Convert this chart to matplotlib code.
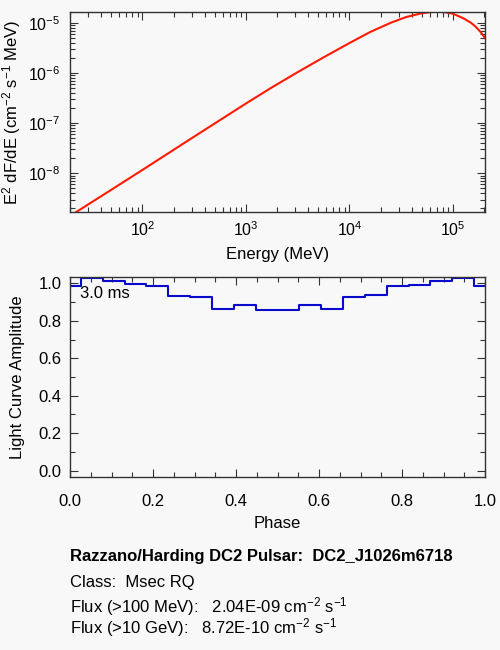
import math
import matplotlib
matplotlib.use("Agg")
import matplotlib.pyplot as plt
from matplotlib.ticker import LogLocator, MultipleLocator, NullFormatter

# spectrum (E in MeV, E^2 dF/dE)
energy = [20, 50, 100, 316, 1000, 1778, 3162, 5623, 10000, 15849, 25119,
          35481, 50119, 59566, 70795, 84140, 100000, 125893, 149279,
          165959, 186209, 206538]
e2dfde = [1.41e-9, 4.68e-9, 1.164e-8, 5.37e-8, 2.455e-7, 5.13e-7, 1.035e-6,
          2.042e-6, 3.936e-6, 6.531e-6, 1.0e-5, 1.303e-5, 1.549e-5, 1.622e-5,
          1.66e-5, 1.622e-5, 1.514e-5, 1.23e-5, 1.0e-5, 8.32e-6, 6.46e-6,
          4.79e-6]

# light curve, 20 phase bins
phase = [i / 19 for i in range(20)]
amplitude = [0.988, 1.027, 1.013, 0.995, 0.987, 0.934, 0.925, 0.861, 0.884,
             0.857, 0.857, 0.884, 0.861, 0.926, 0.936, 0.987, 0.993, 1.011,
             1.027, 0.987]

title = "Razzano/Harding DC2 Pulsar:  DC2_J1026m6718"
pulsar_class = "Class:  Msec RQ"
flux_100mev = "2.04E-09"
flux_10gev = "8.72E-10"
period_label = "3.0 ms"

bg = "#f8f8f8"
plt.rcParams["font.family"] = ["Liberation Sans", "DejaVu Sans"]
plt.rcParams["mathtext.fontset"] = "custom"
plt.rcParams["mathtext.rm"] = "Liberation Sans"
plt.rcParams["mathtext.it"] = "Liberation Sans"
plt.rcParams["font.size"] = 12

fig = plt.figure(figsize=(5, 6.5), dpi=100, facecolor=bg)


def idl_ticks(ax, size=12):
    ax.tick_params(which="both", direction="in", top=True, right=True,
                   color="#333333", labelsize=size)
    ax.tick_params(which="major", length=6, width=0.8)
    ax.tick_params(which="minor", length=3.5, width=0.8)
    for s in ax.spines.values():
        s.set_color("#333333")
        s.set_linewidth(1.0)


def log_label(v, pos):
    e = int(round(math.log10(v)))
    return r"10$^{\mathregular{%d}}$" % e


# top: spectrum
ax1 = fig.add_axes([0.14, 0.674, 0.83, 0.308], facecolor=bg)
ax1.plot(energy, e2dfde, color="#ff1a00", lw=1.5)
ax1.set_xscale("log")
ax1.set_yscale("log")
ax1.set_xlim(20, 2.04e5)
ax1.set_ylim(1.7e-9, 1.66e-5)
ax1.xaxis.set_major_locator(LogLocator(base=10, numticks=10))
ax1.xaxis.set_minor_locator(LogLocator(base=10, subs=range(2, 10), numticks=20))
ax1.xaxis.set_minor_formatter(NullFormatter())
ax1.yaxis.set_minor_formatter(NullFormatter())
ax1.xaxis.set_major_formatter(log_label)
ax1.yaxis.set_major_formatter(log_label)
idl_ticks(ax1, size=11.5)
ax1.tick_params(axis="x", pad=6)
ax1.tick_params(axis="y", pad=7)
ax1.set_xlabel("Energy (MeV)", fontsize=12, labelpad=6)
ax1.set_ylabel(r"E$^2$ dF/dE (cm$^{-2}$ s$^{-1}$ MeV)", fontsize=12)
ax1.yaxis.set_label_coords(-0.114, 0.5)

# bottom: light curve
ax2 = fig.add_axes([0.14, 0.266, 0.83, 0.308], facecolor=bg)
ax2.step(phase, amplitude, where="mid", color="#0a0acc", lw=1.5)
ax2.set_xlim(0, 1)
ax2.set_ylim(-0.035, 1.035)
ax2.xaxis.set_major_locator(MultipleLocator(0.2))
ax2.xaxis.set_minor_locator(MultipleLocator(0.05))
ax2.yaxis.set_major_locator(MultipleLocator(0.2))
ax2.yaxis.set_minor_locator(MultipleLocator(0.1))
ax2.xaxis.set_major_formatter(lambda v, p: f"{v:.1f}")
ax2.yaxis.set_major_formatter(lambda v, p: f"{v:.1f}")
idl_ticks(ax2)
ax2.tick_params(axis="x", pad=12)
ax2.tick_params(axis="y", pad=6)
ax2.set_xlabel("Phase", fontsize=12, labelpad=5)
ax2.set_ylabel("Light Curve Amplitude", fontsize=12)
ax2.yaxis.set_label_coords(-0.108, 0.5)
ax2.text(0.025, 0.915, period_label, transform=ax2.transAxes, fontsize=12,
         va="center", ha="left")

# info block
x0 = 70 / 500
fig.text(x0, 1 - 557 / 650, title, fontsize=12, fontweight="bold", va="center")
fig.text(x0, 1 - 582 / 650, pulsar_class, fontsize=12, va="center")
fig.text(x0, 1 - 607 / 650,
         r"Flux (>100 MeV):   " + flux_100mev + r" cm$^{-2}$ s$^{-1}$",
         fontsize=12, va="center")
fig.text(x0, 1 - 628 / 650,
         r"Flux (>10 GeV):   " + flux_10gev + r" cm$^{-2}$ s$^{-1}$",
         fontsize=12, va="center")

fig.savefig("out.png", dpi=100, facecolor=bg)
